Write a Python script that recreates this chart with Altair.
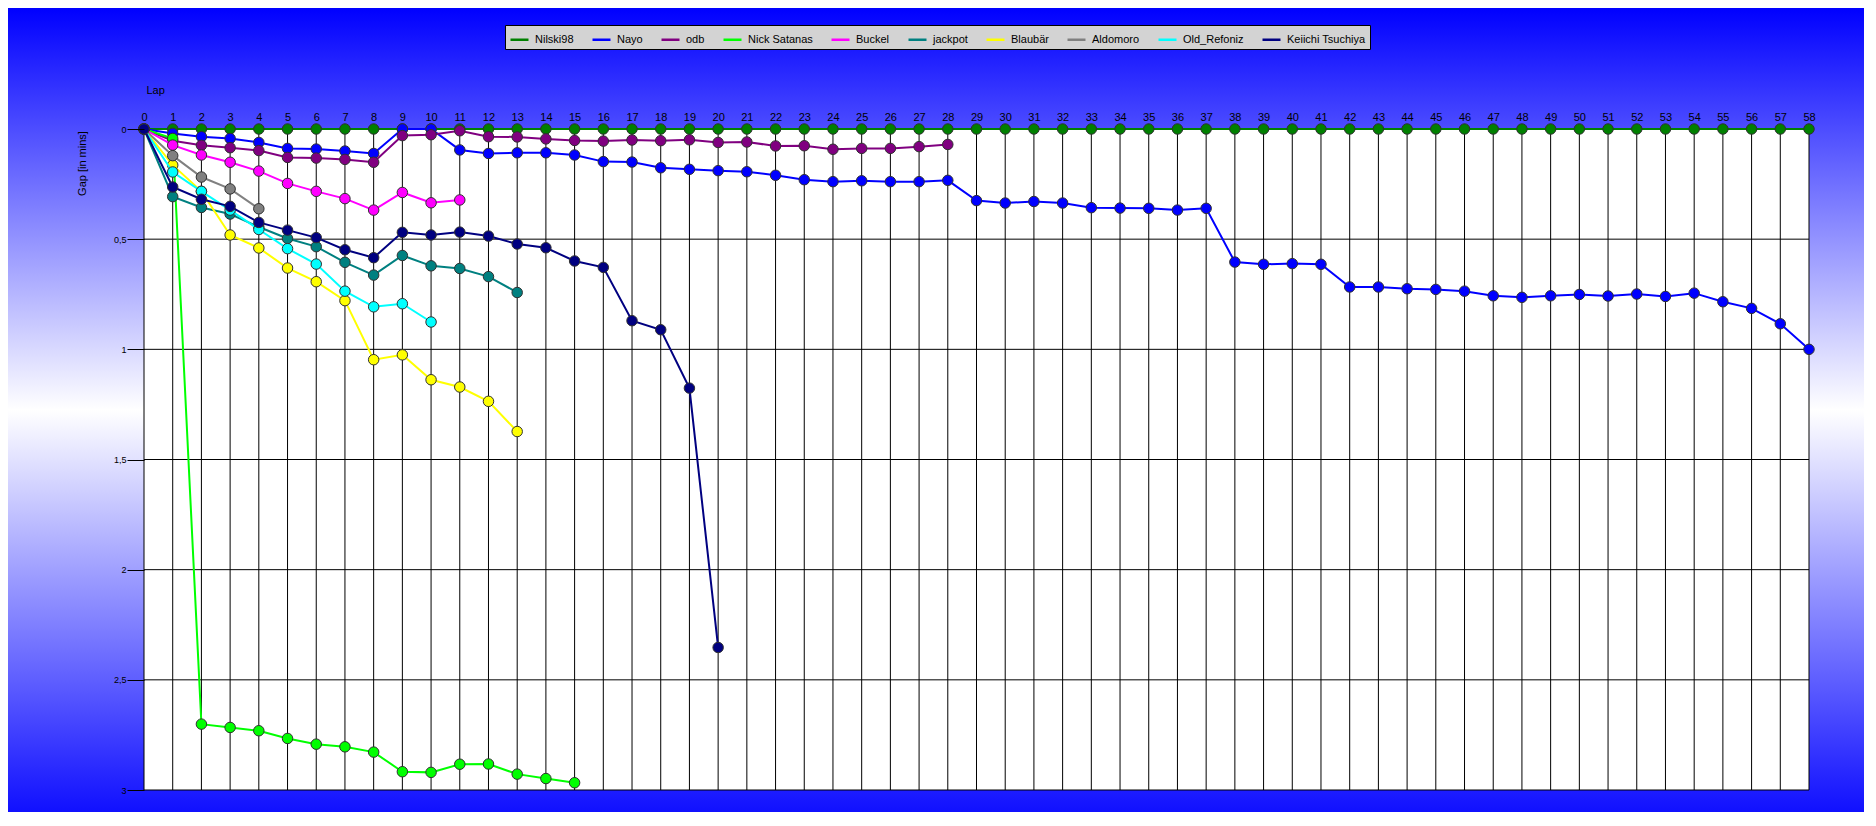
import altair as alt
import pandas as pd

series = ["Nilski98", "Nayo", "odb", "Nick Satanas", "Buckel", "jackpot",
          "Blaubär", "Aldomoro", "Old_Refoniz", "Keiichi Tsuchiya"]
colors = ["#008000", "#0000ff", "#800080", "#00ff00", "#ff00ff", "#008080",
          "#ffff00", "#808080", "#00ffff", "#000080"]

nilski98 = [0.0] * 59
nayo = [0.0, 0.020, 0.035, 0.043, 0.061, 0.088, 0.091, 0.100, 0.111, 0.0,
        0.0, 0.095, 0.111, 0.108, 0.108, 0.118, 0.148, 0.150, 0.176, 0.183,
        0.189, 0.194, 0.210, 0.230, 0.239, 0.235, 0.239, 0.239, 0.233, 0.325,
        0.336, 0.329, 0.336, 0.357, 0.359, 0.360, 0.368, 0.360, 0.604, 0.614,
        0.611, 0.614, 0.717, 0.717, 0.725, 0.728, 0.736, 0.757, 0.764, 0.757,
        0.751, 0.758, 0.749, 0.760, 0.745, 0.784, 0.814, 0.884, 1.0]
odb = [0.0, 0.053, 0.074, 0.085, 0.098, 0.129, 0.132, 0.138, 0.151, 0.030,
       0.026, 0.008, 0.035, 0.036, 0.045, 0.052, 0.055, 0.050, 0.053, 0.049,
       0.061, 0.059, 0.077, 0.076, 0.092, 0.088, 0.088, 0.080, 0.070]
nick = [0.0, 0.043, 2.701, 2.716, 2.731, 2.766, 2.792, 2.804, 2.828, 2.917,
        2.920, 2.883, 2.882, 2.928, 2.948, 2.967]
buckel = [0.0, 0.073, 0.118, 0.151, 0.191, 0.247, 0.283, 0.316, 0.368, 0.288,
          0.335, 0.322]
jackpot = [0.0, 0.307, 0.356, 0.386, 0.445, 0.497, 0.534, 0.605, 0.663, 0.574,
           0.621, 0.633, 0.670, 0.742]
blaubaer = [0.0, 0.164, 0.283, 0.481, 0.540, 0.631, 0.693, 0.779, 1.047, 1.025,
            1.138, 1.171, 1.236, 1.373]
aldomoro = [0.0, 0.121, 0.218, 0.272, 0.362]
old_refoniz = [0.0, 0.195, 0.283, 0.368, 0.456, 0.543, 0.613, 0.736, 0.807,
               0.793, 0.876]
keiichi = [0.0, 0.263, 0.319, 0.351, 0.424, 0.459, 0.493, 0.548, 0.584, 0.469,
           0.481, 0.468, 0.486, 0.522, 0.539, 0.599, 0.628, 0.870, 0.911, 1.176,
           2.353]

all_values = [nilski98, nayo, odb, nick, buckel, jackpot, blaubaer, aldomoro,
              old_refoniz, keiichi]

laps = list(range(0, 59))
gap_ticks = [0, 0.5, 1, 1.5, 2, 2.5, 3]

rows = []
for i, (name, vals) in enumerate(zip(series, all_values)):
    for lap, v in enumerate(vals):
        rows.append({"series": name, "idx": i, "lap": lap, "gap": v})
df = pd.DataFrame(rows)

W, H = 1665, 661
PAD = {"left": 136, "top": 121, "right": 55, "bottom": 22}

xscale = alt.Scale(domain=[0, 58], nice=False, zero=False)
yscale = alt.Scale(domain=[0, 3], reverse=True, nice=False)
cscale = alt.Scale(domain=series, range=colors)

font = "Liberation Sans"

x_axis = alt.Axis(orient="top", values=laps, title="Lap", grid=False, domain=False,
                  ticks=False, labelPadding=7, labelFontSize=11,
                  labelFont=font, labelColor="black", labelAngle=0, labelFlush=False,
                  labelOverlap=False, titleX=2, titleY=-39, titleAlign="left",
                  titleBaseline="middle", titleFont=font, titleFontSize=11,
                  titleFontWeight="normal", titleColor="black", zindex=1)
y_axis = alt.Axis(orient="left", values=gap_ticks, title="Gap [in mins]", grid=False,
                  domain=False, tickColor="black", tickSize=17, labelPadding=1,
                  labelFontSize=9, labelFont=font, labelColor="black",
                  labelExpr="replace(format(datum.value, '~g'), '.', ',')",
                  labelFlush=False,
                  titleX=-62, titleY=34, titleAngle=270, titleAlign="center",
                  titleBaseline="middle", titleFont=font, titleFontSize=11,
                  titleFontWeight="normal", titleColor="black", zindex=1)


def X(field):
    return alt.X(field, scale=xscale, axis=x_axis)


def Y(field):
    return alt.Y(field, scale=yscale, axis=y_axis)


# background gradient covering whole canvas
bg = alt.Chart(pd.DataFrame({"a": [0]})).mark_rect(
    fill=alt.Gradient(gradient="linear", x1=0, x2=0, y1=0, y2=1,
                      stops=[alt.GradientStop(color="#0000ff", offset=0),
                             alt.GradientStop(color="#ffffff", offset=0.5),
                             alt.GradientStop(color="#1010ff", offset=1)]),
    strokeWidth=0,
).encode(
    x=alt.value(-PAD["left"]), x2=alt.value(W + PAD["right"]),
    y=alt.value(-PAD["top"]), y2=alt.value(H + PAD["bottom"]),
)

plot_bg = alt.Chart(pd.DataFrame({"x0": [0], "x1": [58], "y0": [0], "y1": [3]})).mark_rect(
    fill="white", strokeWidth=0
).encode(x=X("x0:Q"), x2="x1:Q", y=Y("y0:Q"), y2="y1:Q")

vgrid = alt.Chart(pd.DataFrame({"lap": laps, "y0": 0, "y1": 3})).mark_rule(
    color="black", strokeWidth=1
).encode(x=X("lap:Q"), y=Y("y0:Q"), y2="y1:Q")

# top axis tick marks, drawn beneath the data markers
xticks = alt.Chart(pd.DataFrame({"lap": laps})).mark_rule(
    color="black", strokeWidth=1
).encode(x=X("lap:Q"), y=alt.value(-5), y2=alt.value(0))

hgrid = alt.Chart(pd.DataFrame({"g": gap_ticks, "x0": 0, "x1": 58})).mark_rule(
    color="black", strokeWidth=1
).encode(y=Y("g:Q"), x=X("x0:Q"), x2="x1:Q")

legend = alt.Legend(orient="none", legendX=361, legendY=-104, direction="horizontal",
                    columns=10, title=None, symbolType="stroke", symbolSize=324,
                    symbolStrokeWidth=2.5, labelFont=font, labelFontSize=11,
                    labelColor="black", fillColor="#d3d3d3", strokeColor="black",
                    padding=4, columnPadding=13, labelOffset=5, zindex=1)

layers = [bg, plot_bg, vgrid, xticks, hgrid]
for i, name in enumerate(series):
    base = alt.Chart(df).transform_filter(alt.datum.series == name)
    line = base.mark_line(strokeWidth=2).encode(
        x=X("lap:Q"), y=Y("gap:Q"),
        color=alt.Color("series:N", scale=cscale,
                        legend=legend if i == 0 else None),
    )
    pts = base.mark_circle(size=110, opacity=1, stroke="#303030", strokeWidth=1).encode(
        x=X("lap:Q"), y=Y("gap:Q"),
        color=alt.Color("series:N", scale=cscale, legend=None),
    )
    layers += [line, pts]

chart = alt.layer(*layers).properties(
    width=W, height=H,
    autosize=alt.AutoSizeParams(type="none"),
    padding=PAD,
).configure_view(strokeWidth=0)

chart.save("out.html", embed_options={"renderer": "svg", "actions": False})
